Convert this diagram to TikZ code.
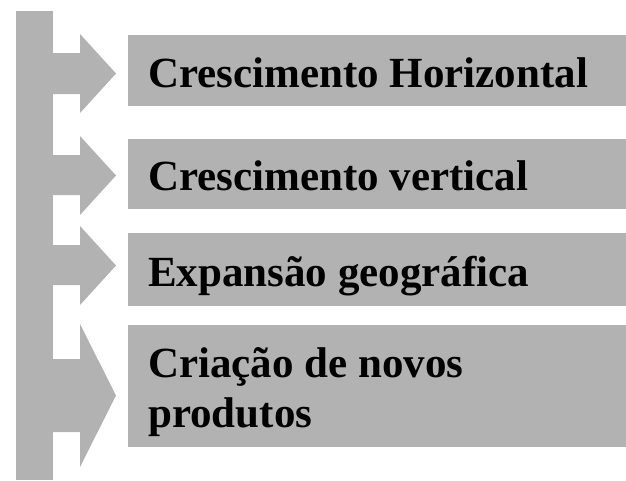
\documentclass[tikz,border=0pt]{standalone}
\usepackage{fontspec}
\setmainfont{Liberation Serif}
\usepackage{tikz}
\definecolor{barcolor}{gray}{0.7}

\begin{document}
\begin{tikzpicture}[x=1pt,y=-1pt,line join=miter,
  box/.style={fill=barcolor,anchor=north west,minimum width=498pt,text width=458pt,
    inner xsep=20pt,align=flush left,text height=36pt,text depth=3pt,
    font=\bfseries\fontsize{43}{50}\selectfont}]
\useasboundingbox (0,0) rectangle (626,480);
\fill[barcolor] (16,11) rectangle (53,480);
\foreach \ya/\yb/\yc/\yd/\ye in {34/53/73.5/94/113, 136/155/175.5/195/215,
  226/245/265.5/285/305, 324/359/395.5/432/467} { % arrows off the bar
	\fill[barcolor] (52,\yb) -- (80,\yb) -- (80,\ya) -- (116,\yc) -- (80,\ye) -- (80,\yd) -- (52,\yd) -- cycle;
}
\node[box,minimum height=71pt] (horizontal) at (128,35) {Crescimento Horizontal};
\node[box,minimum height=70pt] (vertical) at (128,139) {Crescimento vertical};
\node[box,minimum height=73pt] (geografica) at (128,233) {Expansão geográfica};
\node[box,minimum height=122pt,text depth=53pt] (produtos) at (128,325) {Criação de novos\\produtos};
\end{tikzpicture}
\end{document}
